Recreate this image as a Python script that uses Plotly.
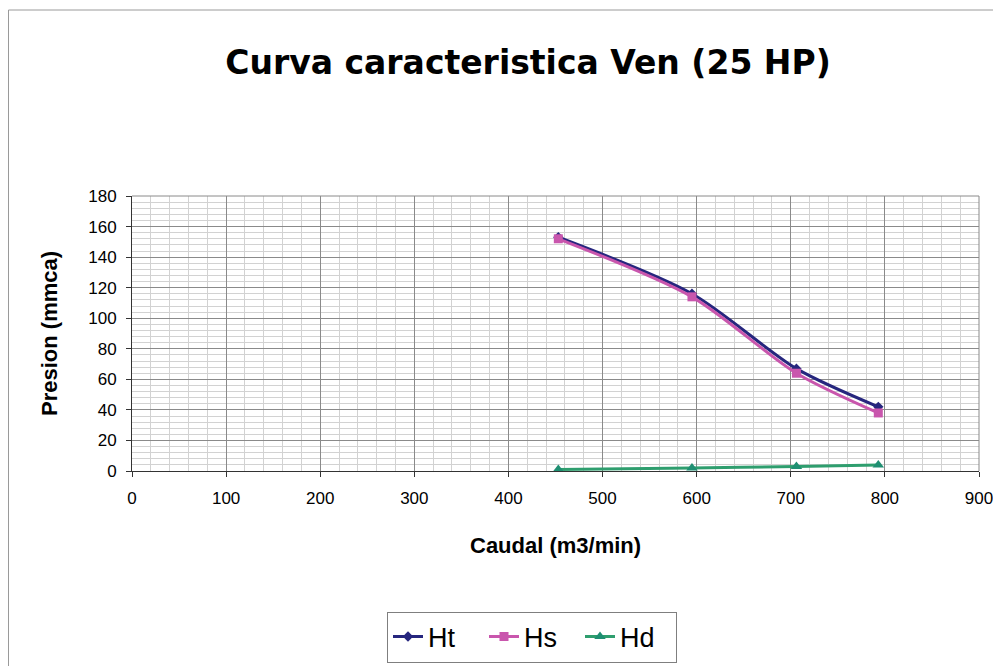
import plotly.graph_objects as go

caudal = [453, 595, 706, 793]
ht = [153, 116, 67, 42]
hs = [152, 114, 64, 38]
hd = [1, 2, 3, 4]

x_ticks = [0, 100, 200, 300, 400, 500, 600, 700, 800, 900]
y_ticks = [0, 20, 40, 60, 80, 100, 120, 140, 160, 180]

FONT = "Liberation Sans, Arial, sans-serif"

fig = go.Figure()
fig.add_trace(go.Scatter(x=caudal, y=ht, name="Ht", mode="lines+markers",
                         line=dict(color="#26267e", width=3, shape="spline", smoothing=0.8),
                         marker=dict(symbol="diamond", size=8, color="#26267e")))
fig.add_trace(go.Scatter(x=caudal, y=hs, name="Hs", mode="lines+markers",
                         line=dict(color="#c956ad", width=3, shape="spline", smoothing=0.8),
                         marker=dict(symbol="square", size=9, color="#c956ad")))
fig.add_trace(go.Scatter(x=caudal, y=hd, name="Hd", mode="lines+markers",
                         line=dict(color="#2e9e6e", width=3, shape="spline", smoothing=0.8),
                         marker=dict(symbol="triangle-up", size=10, color="#1f8f72")))

# page body has an 8px margin: work in figure pixels = viewport - 8
OFF = 8
W, H = 1001 - OFF, 666 - OFF
L, R, T, B = 132 - OFF, 979 - OFF, 196 - OFF, 471 - OFF
pw, ph = R - L, B - T

def px(x):
    return (x - OFF - L) / pw

def py(y):
    return (B - (y - OFF)) / ph

fig.update_layout(
    width=W, height=H,
    margin=dict(l=L, r=W - R, t=T, b=H - B, pad=0, autoexpand=False),
    paper_bgcolor="white", plot_bgcolor="white",
    font=dict(family=FONT, color="black"),
    title=dict(text="Curva caracteristica Ven (25 HP)", x=(528 - OFF) / W, xanchor="center",
               y=1 - (62 - OFF) / H, yanchor="middle", yref="container", xref="container",
               font=dict(family="DejaVu Sans, Liberation Sans, sans-serif", size=33,
                         weight="bold", color="black")),
    showlegend=True,
    legend=dict(orientation="h", x=px(532), xanchor="center", y=py(637), yanchor="middle",
                bordercolor="#7f7f7f", borderwidth=1, bgcolor="white",
                font=dict(family=FONT, size=27, color="black"),
                entrywidth=51, entrywidthmode="pixels", tracegroupgap=0),
    xaxis=dict(range=[0, 900], tickvals=x_ticks, ticktext=[str(v) for v in x_ticks],
               showline=True, linecolor="#333333", linewidth=1, mirror=False,
               ticks="outside", ticklen=5, tickcolor="#333333",
               tickfont=dict(family=FONT, size=17), ticklabelstandoff=7,
               showgrid=True, gridcolor="#8a8a8a", gridwidth=1,
               minor=dict(dtick=20, showgrid=True, gridcolor="#d2d2d2", gridwidth=1),
               zeroline=False),
    yaxis=dict(range=[0, 180], tickvals=y_ticks, ticktext=[str(v) for v in y_ticks],
               showline=True, linecolor="#333333", linewidth=1,
               ticks="outside", ticklen=5, tickcolor="#333333",
               tickfont=dict(family=FONT, size=17), ticklabelstandoff=6,
               showgrid=True, gridcolor="#8a8a8a", gridwidth=1,
               minor=dict(dtick=4, showgrid=True, gridcolor="#d2d2d2", gridwidth=1),
               zeroline=False),
    annotations=[
        dict(text="Caudal (m3/min)", xref="paper", yref="paper", x=px(555), y=py(545),
             xanchor="center", yanchor="middle", showarrow=False,
             font=dict(family=FONT, size=22, weight="bold", color="black")),
        dict(text="Presion (mmca)", xref="paper", yref="paper", x=px(49), y=py(334),
             xanchor="center", yanchor="middle", showarrow=False, textangle=-90,
             font=dict(family=FONT, size=22, weight="bold", color="black")),
    ],
    shapes=[
        dict(type="rect", xref="paper", yref="paper", x0=px(8.5), x1=px(997), y0=py(700), y1=py(10),
             line=dict(color="#9a9a9a", width=1), layer="below"),
        dict(type="line", xref="paper", yref="paper", x0=0, x1=1, y0=1, y1=1,
             line=dict(color="#8a8a8a", width=1)),
        dict(type="line", xref="paper", yref="paper", x0=1, x1=1, y0=0, y1=1,
             line=dict(color="#8a8a8a", width=1)),
    ],
)

fig.write_html("out.html")
